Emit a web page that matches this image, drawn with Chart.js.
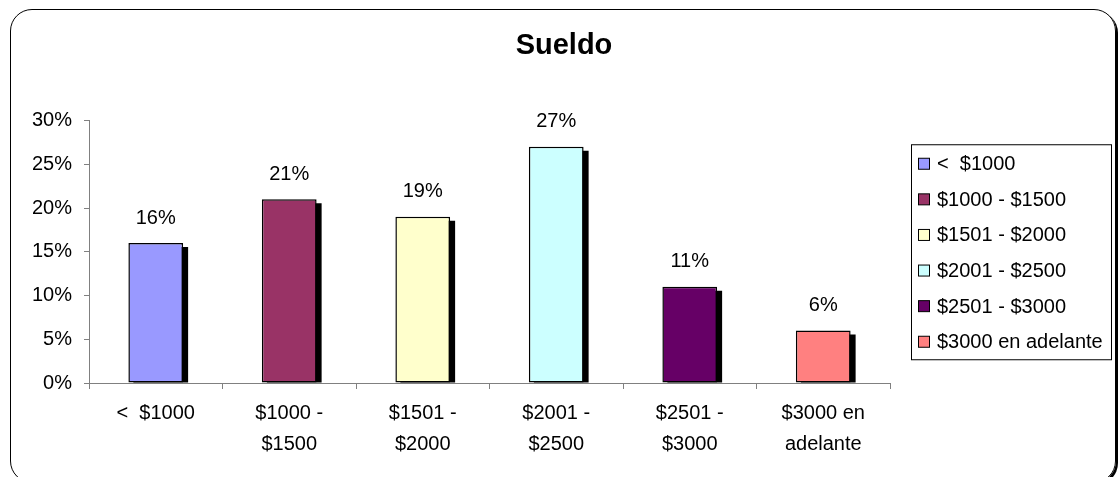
<!DOCTYPE html>
<html>
<head>
<meta charset="utf-8">
<style>
  body { margin: 0; width: 1119px; height: 477px; overflow: hidden; background: #fff; position: relative; }
  #frame { position: absolute; left: 10px; top: 9px; width: 1104px; height: 472px; border: 1.5px solid #000; border-radius: 22px; box-shadow: 2px 2px 0 #000; }
  #myChart { position: absolute; left: 0; top: 0; }
</style>
<script src="https://cdn.jsdelivr.net/npm/chart.js"></script>
</head>
<body>
<div id="frame"></div>
<canvas id="myChart" width="1119" height="477"></canvas>
<script>
	// salary ranges (axis labels are split on two lines like the original)
	var categories = [['<  $1000'], ['$1000 -', '$1500'], ['$1501 -', '$2000'], ['$2001 -', '$2500'], ['$2501 -', '$3000'], ['$3000 en', 'adelante']];
	var legendLabels = ['<  $1000', '$1000 - $1500', '$1501 - $2000', '$2001 - $2500', '$2501 - $3000', '$3000 en adelante'];
	var percents = [16, 21, 19, 27, 11, 6];
	var barColors = ['#9999FF', '#993366', '#FFFFCC', '#CCFFFF', '#660066', '#FF8080'];
	var chartTitle = 'Sueldo';

	Chart.defaults.font.family = '"Liberation Sans", Arial, sans-serif';
	Chart.defaults.color = '#000';

	// black drop shadow behind each bar
	var barShadow = {
		id: 'barShadow',
		beforeDatasetsDraw: function (chart) {
			var c = chart.ctx;
			var bars = chart.getDatasetMeta(0).data;
			c.save();
			c.fillStyle = '#000';
			bars.forEach(function (b) {
				var l = b.x - b.width / 2 + 5;
				c.fillRect(l, b.y + 4, b.width, b.base - b.y - 4);
			});
			c.restore();
		}
	};

	// value labels above the bars
	var valueLabels = {
		id: 'valueLabels',
		afterDatasetsDraw: function (chart) {
			var c = chart.ctx;
			var bars = chart.getDatasetMeta(0).data;
			c.save();
			c.font = '20px "Liberation Sans", Arial, sans-serif';
			c.fillStyle = '#000';
			c.textAlign = 'center';
			c.textBaseline = 'middle';
			bars.forEach(function (b, i) {
				c.fillText(percents[i] + '%', b.x, b.y - 25);
			});
			c.restore();
		}
	};

	// title centred on the whole frame, not only the plot
	var frameTitle = {
		id: 'frameTitle',
		afterDraw: function (chart) {
			var c = chart.ctx;
			c.save();
			c.font = 'bold 29px "Liberation Sans", Arial, sans-serif';
			c.fillStyle = '#000';
			c.textAlign = 'center';
			c.textBaseline = 'middle';
			c.fillText(chartTitle, 564, 46);
			c.restore();
		}
	};

	// boxed legend on the right, like the excel one
	var boxLegend = {
		id: 'boxLegend',
		afterDraw: function (chart) {
			var c = chart.ctx;
			var area = chart.chartArea;
			var left = area.right + 21, w = 200, h = 215;
			var top = (area.top + area.bottom) / 2 - h / 2;
			var step = 35.6;
			c.save();
			c.strokeStyle = '#000';
			c.lineWidth = 1;
			c.strokeRect(left + 0.5, top + 0.5, w, h);
			c.font = '20px "Liberation Sans", Arial, sans-serif';
			c.textBaseline = 'middle';
			legendLabels.forEach(function (txt, i) {
				var cy = top + 19.5 + i * step;
				c.fillStyle = barColors[i];
				c.fillRect(left + 7.5, cy - 5.5, 11, 11);
				c.strokeRect(left + 7.5, cy - 5.5, 11, 11);
				c.fillStyle = '#000';
				c.fillText(txt, left + 26, cy + 1);
			});
			c.restore();
		}
	};

	var ctx = document.getElementById('myChart').getContext('2d');
	var chart = new Chart(ctx, {
		type: 'bar',
		data: {
			labels: categories,
			datasets: [{
				label: chartTitle,
				data: percents,
				backgroundColor: barColors,
				borderColor: '#000',
				borderWidth: 1.5,
				borderSkipped: false,
				barPercentage: 0.41,
				categoryPercentage: 1
			}]
		},
		options: {
			responsive: false,
			animation: false,
			layout: {
				padding: { left: 0, right: 229, top: 120.5, bottom: 0 }
			},
			plugins: {
				legend: { display: false },
				tooltip: { enabled: false },
				title: { display: false }
			},
			scales: {
				x: {
					grid: { drawOnChartArea: false, color: '#808080', tickLength: 6, offset: true },
					border: { color: '#808080' },
					ticks: { font: { size: 20, lineHeight: 1.55 }, padding: 9, maxRotation: 0, autoSkip: false },
					afterFit: function (s) { s.height = 94; }
				},
				y: {
					min: 0,
					max: 30,
					grid: { drawOnChartArea: false, color: '#808080', tickLength: 5 },
					border: { color: '#808080' },
					ticks: { stepSize: 5, font: { size: 20 }, padding: 12, callback: function (v) { return v + '%'; } },
					afterFit: function (s) { s.width = 89; }
				}
			}
		},
		plugins: [barShadow, valueLabels, frameTitle, boxLegend]
	});
</script>
</body>
</html>
